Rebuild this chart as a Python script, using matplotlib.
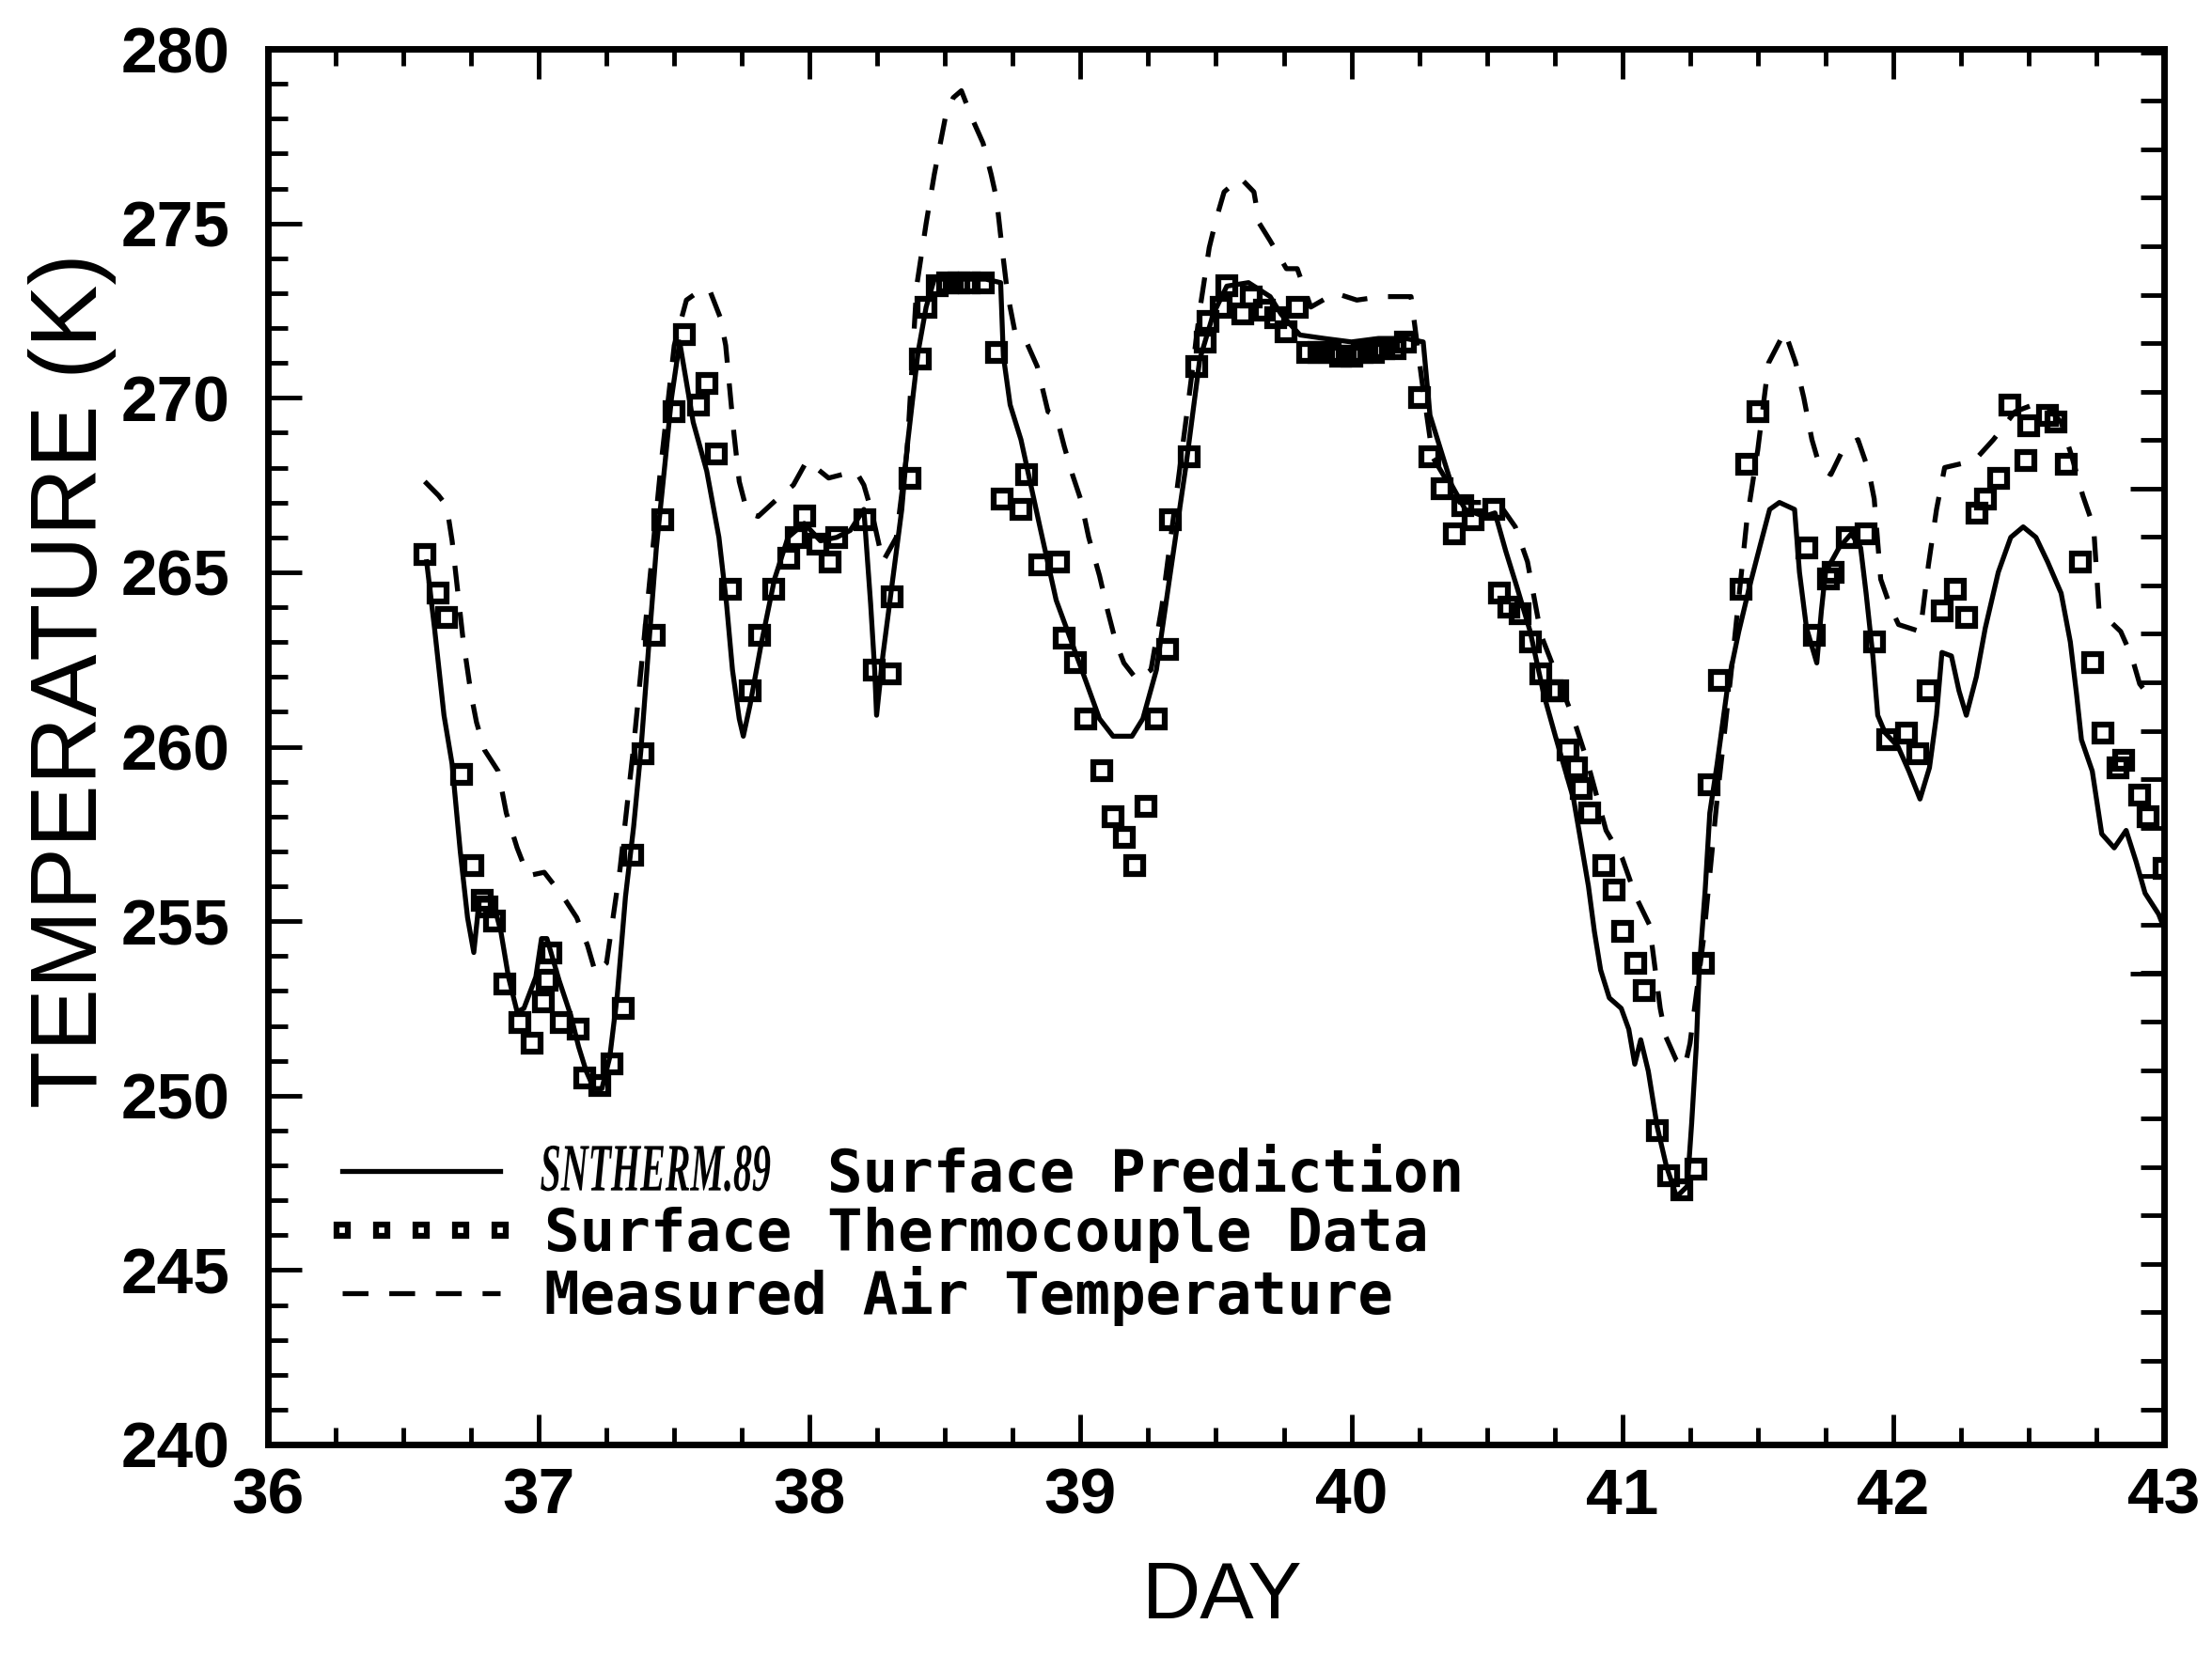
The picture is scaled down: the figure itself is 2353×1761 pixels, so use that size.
import numpy as np
import matplotlib
matplotlib.use("Agg")
import matplotlib.pyplot as plt
from matplotlib.ticker import FixedLocator, MultipleLocator, NullFormatter
from matplotlib.textpath import TextPath
from matplotlib.patches import PathPatch
from matplotlib.font_manager import FontProperties
from matplotlib.transforms import Affine2D

# ── Data ────────────────────────────────────────────────────────────────────

# SNTHERM.89 surface prediction (solid line)
model_day = [36.586, 36.615, 36.650, 36.680, 36.710, 36.737, 36.760, 36.780, 36.830, 36.860,
             36.888, 36.920, 36.945, 36.989, 37.010, 37.030, 37.075, 37.118, 37.147, 37.175,
             37.204, 37.233, 37.262, 37.290, 37.320, 37.350, 37.377, 37.405, 37.434, 37.463,
             37.490, 37.520, 37.570, 37.620, 37.665, 37.693, 37.715, 37.740, 37.755, 37.780,
             37.820, 37.870, 37.920, 37.980, 38.040, 38.100, 38.150, 38.200, 38.225, 38.240,
             38.247, 38.270, 38.310, 38.340, 38.360, 38.400, 38.430, 38.460, 38.550, 38.650,
             38.705, 38.715, 38.740, 38.780, 38.850, 38.910, 39.000, 39.070, 39.120, 39.190,
             39.230, 39.280, 39.330, 39.390, 39.440, 39.490, 39.540, 39.620, 39.700, 39.740,
             39.810, 39.900, 40.000, 40.100, 40.200, 40.265, 40.290, 40.330, 40.370, 40.420,
             40.490, 40.530, 40.570, 40.610, 40.660, 40.710, 40.753, 40.820, 40.840, 40.875,
             40.897, 40.920, 40.952, 40.996, 41.024, 41.046, 41.068, 41.096, 41.129, 41.162,
             41.200, 41.240, 41.256, 41.273, 41.284, 41.306, 41.323, 41.350, 41.390, 41.430,
             41.470, 41.510, 41.544, 41.580, 41.636, 41.654, 41.680, 41.718, 41.735, 41.750,
             41.800, 41.845, 41.880, 41.900, 41.925, 41.943, 41.970, 42.018, 42.058, 42.099,
             42.134, 42.160, 42.180, 42.215, 42.243, 42.270, 42.307, 42.340, 42.388, 42.434,
             42.480, 42.527, 42.570, 42.620, 42.654, 42.677, 42.695, 42.735, 42.770, 42.816,
             42.860, 42.897, 42.930, 42.980, 43.000]
model_temp = [265.3, 263.4, 260.9, 259.5, 257.0, 255.1, 254.1, 255.6, 255.6, 254.7,
              253.4, 252.4, 252.5, 253.4, 254.5, 254.5, 253.3, 252.3, 251.4, 250.7,
              250.2, 250.2, 251.1, 252.9, 255.7, 257.7, 259.9, 262.8, 265.7, 267.9,
              270.0, 271.6, 269.3, 267.9, 266.0, 264.1, 262.2, 260.8, 260.3, 261.2,
              262.9, 264.8, 266.0, 266.4, 265.9, 266.0, 266.2, 266.8, 264.1, 262.2,
              260.9, 262.6, 265.0, 266.8, 268.6, 271.3, 272.6, 273.4, 273.4, 273.4,
              273.3, 271.2, 269.8, 268.8, 266.3, 264.2, 262.3, 260.8, 260.3, 260.3,
              260.8, 262.2, 264.9, 268.1, 271.1, 272.4, 273.2, 273.3, 272.9, 272.4,
              271.8, 271.7, 271.6, 271.7, 271.7, 271.6, 269.5, 268.5, 267.5, 266.8,
              266.6, 266.7, 265.6, 264.6, 263.3, 261.5, 260.3, 258.5, 257.6, 256.0,
              254.7, 253.6, 252.8, 252.5, 251.9, 250.9, 251.6, 250.7, 249.1, 248.0,
              247.1, 247.4, 249.2, 251.4, 253.6, 255.9, 258.1, 259.5, 261.8, 263.3,
              264.6, 265.8, 266.8, 267.0, 266.8, 265.0, 263.4, 262.4, 263.9, 265.0,
              265.7, 266.1, 265.7, 264.4, 262.6, 260.9, 260.4, 260.0, 259.3, 258.5,
              259.4, 260.9, 262.7, 262.6, 261.6, 260.9, 262.0, 263.4, 265.0, 266.0,
              266.3, 266.0, 265.3, 264.4, 263.0, 261.5, 260.2, 259.3, 257.5, 257.1,
              257.6, 256.7, 255.8, 255.2, 254.8]

# Surface thermocouple data (squares)
obs_day = [36.579, 36.629, 36.658, 36.715, 36.758, 36.790, 36.809, 36.838, 36.874, 36.931,
           36.974, 37.017, 37.030, 37.046, 37.082, 37.147, 37.168, 37.226, 37.269, 37.312,
           37.348, 37.384, 37.427, 37.456, 37.500, 37.537, 37.590, 37.620, 37.657, 37.708,
           37.780, 37.815, 37.866, 37.923, 37.950, 37.981, 38.031, 38.074, 38.100, 38.204,
           38.240, 38.297, 38.304, 38.369, 38.410, 38.430, 38.470, 38.510, 38.550, 38.590,
           38.640, 38.690, 38.710, 38.780, 38.800, 38.850, 38.920, 38.940, 38.980, 39.020,
           39.080, 39.120, 39.160, 39.200, 39.240, 39.280, 39.320, 39.330, 39.400, 39.430,
           39.460, 39.470, 39.520, 39.540, 39.600, 39.630, 39.680, 39.720, 39.760, 39.800,
           39.840, 39.880, 39.920, 39.960, 40.000, 40.040, 40.080, 40.120, 40.160, 40.200,
           40.250, 40.290, 40.335, 40.380, 40.410, 40.450, 40.525, 40.545, 40.580, 40.624,
           40.660, 40.700, 40.740, 40.760, 40.800, 40.830, 40.850, 40.880, 40.930, 40.970,
           41.000, 41.050, 41.080, 41.130, 41.170, 41.220, 41.270, 41.300, 41.320, 41.360,
           41.440, 41.460, 41.500, 41.680, 41.710, 41.760, 41.780, 41.830, 41.900, 41.930,
           41.980, 42.050, 42.090, 42.130, 42.180, 42.230, 42.270, 42.310, 42.340, 42.390,
           42.430, 42.490, 42.500, 42.570, 42.600, 42.640, 42.690, 42.735, 42.775, 42.830,
           42.850, 42.910, 42.940, 43.000]
obs_temp = [265.5, 264.4, 263.7, 259.2, 256.6, 255.6, 255.4, 255.0, 253.2, 252.1,
            251.5, 252.7, 253.3, 254.1, 252.1, 251.9, 250.5, 250.3, 250.9, 252.5,
            256.9, 259.8, 263.2, 266.5, 269.6, 271.8, 269.8, 270.4, 268.4, 264.5,
            261.6, 263.2, 264.5, 265.4, 266.0, 266.6, 265.8, 265.3, 266.0, 266.5,
            262.2, 262.1, 264.3, 267.7, 271.1, 272.6, 273.2, 273.3, 273.3, 273.3,
            273.3, 271.3, 267.1, 266.8, 267.8, 265.2, 265.3, 263.1, 262.4, 260.8,
            259.3, 258.0, 257.4, 256.6, 258.3, 260.8, 262.8, 266.5, 268.3, 270.9,
            271.6, 272.2, 272.6, 273.2, 272.4, 272.9, 272.5, 272.3, 271.9, 272.6,
            271.3, 271.3, 271.3, 271.2, 271.2, 271.3, 271.3, 271.4, 271.4, 271.6,
            270.0, 268.3, 267.4, 266.1, 266.9, 266.5, 266.8, 264.4, 264.0, 263.8,
            263.0, 262.1, 261.6, 261.6, 259.9, 259.4, 258.8, 258.1, 256.6, 255.9,
            254.7, 253.8, 253.0, 249.0, 247.7, 247.3, 247.9, 253.8, 258.9, 261.9,
            264.5, 268.1, 269.6, 265.7, 263.2, 264.8, 265.0, 266.0, 266.1, 263.0,
            260.2, 260.4, 259.8, 261.6, 263.9, 264.5, 263.7, 266.7, 267.1, 267.7,
            269.8, 268.2, 269.2, 269.5, 269.3, 268.1, 265.3, 262.4, 260.4, 259.4,
            259.6, 258.6, 258.0, 256.5]

# Measured air temperature (dashed line)
air_day = [36.579, 36.630, 36.660, 36.680, 36.720, 36.750, 36.770, 36.800, 36.850, 36.880,
           36.920, 36.960, 37.020, 37.090, 37.140, 37.180, 37.210, 37.250, 37.300, 37.350,
           37.400, 37.450, 37.500, 37.545, 37.600, 37.630, 37.670, 37.690, 37.720, 37.740,
           37.770, 37.810, 37.880, 37.940, 37.990, 38.070, 38.170, 38.200, 38.230, 38.270,
           38.320, 38.360, 38.395, 38.430, 38.460, 38.500, 38.530, 38.560, 38.600, 38.640,
           38.670, 38.690, 38.710, 38.730, 38.760, 38.800, 38.840, 38.880, 38.910, 38.940,
           38.970, 39.000, 39.030, 39.070, 39.100, 39.130, 39.160, 39.210, 39.260, 39.300,
           39.350, 39.400, 39.440, 39.475, 39.500, 39.530, 39.590, 39.640, 39.660, 39.700,
           39.760, 39.800, 39.850, 39.940, 40.020, 40.110, 40.220, 40.260, 40.300, 40.400,
           40.500, 40.560, 40.605, 40.650, 40.700, 40.760, 40.820, 40.870, 40.940, 41.000,
           41.050, 41.100, 41.140, 41.160, 41.200, 41.230, 41.250, 41.300, 41.350, 41.400,
           41.460, 41.500, 41.540, 41.600, 41.640, 41.670, 41.700, 41.730, 41.770, 41.820,
           41.870, 41.910, 41.930, 41.954, 41.990, 42.020, 42.100, 42.130, 42.160, 42.190,
           42.300, 42.370, 42.450, 42.550, 42.620, 42.660, 42.700, 42.740, 42.760, 42.840,
           42.880, 42.910, 42.960]
air_temp = [267.6, 267.2, 266.9, 265.9, 263.1, 261.5, 260.7, 259.9, 259.3, 258.1,
            257.1, 256.3, 256.4, 255.7, 255.1, 254.3, 253.5, 253.8, 256.5, 260.0,
            264.0, 268.0, 271.5, 272.8, 273.1, 273.1, 272.3, 271.5, 269.0, 267.6,
            266.7, 266.6, 267.1, 267.5, 268.2, 267.7, 267.9, 267.5, 266.7, 265.3,
            266.0, 268.5, 273.2, 275.0, 276.4, 278.0, 278.6, 278.8, 278.0, 277.3,
            276.4, 275.7, 274.3, 273.0, 271.8, 271.6, 270.9, 269.6, 269.5, 268.6,
            267.8, 267.1, 266.0, 264.9, 263.9, 263.0, 262.4, 261.9, 262.2, 264.0,
            267.0, 270.0, 272.5, 274.3, 275.1, 275.9, 276.3, 275.9, 275.0, 274.5,
            273.7, 273.7, 272.6, 273.0, 272.8, 272.9, 272.9, 270.5, 268.3, 267.0,
            267.0, 266.8, 266.3, 265.3, 263.2, 262.0, 260.8, 259.6, 257.6, 256.8,
            255.7, 254.9, 252.5, 251.7, 251.0, 250.8, 251.5, 254.5, 258.5, 262.0,
            266.5, 268.5, 271.0, 271.9, 271.0, 270.0, 268.8, 268.0, 267.8, 268.6,
            268.8, 267.9, 267.1, 264.8, 264.0, 263.5, 263.3, 265.2, 266.8, 268.0,
            268.2, 268.8, 269.6, 269.9, 269.3, 268.3, 267.2, 266.3, 263.9, 263.3,
            262.6, 261.8, 261.3]

x_ticks = [36, 37, 38, 39, 40, 41, 42, 43]
y_ticks = [240, 245, 250, 255, 260, 265, 270, 275, 280]

legend_labels = ["Surface Prediction", "Surface Thermocouple Data",
                 "Measured Air Temperature"]
model_name = "SNTHERM.89"

# ── Style ─────────────────────────────────────────────────────────────────────

plt.rcParams['font.family'] = ['Liberation Sans', 'DejaVu Sans']
plt.rcParams['font.weight'] = 'bold'

W, H = 2353, 1761
fig = plt.figure(figsize=(W / 100, H / 100), dpi=100)
fig.patch.set_facecolor('white')
ax = fig.add_axes([285 / W, 1 - 1537 / H, (2302 - 285) / W, (1537 - 52) / H])

line_model, = ax.plot(model_day, model_temp, color='black', lw=3.8,
                      solid_joinstyle='round', zorder=3)
line_obs, = ax.plot(obs_day, obs_temp, ls='none', marker='s', ms=13,
                    mfc='none', mec='black', mew=4.5, zorder=4)
line_air, = ax.plot(air_day, air_temp, color='black', lw=3.8,
                    ls=(0, (5.2, 4.2)), zorder=3)

ax.set_xlim(36, 43)
ax.set_ylim(240, 280)

ax.xaxis.set_major_locator(FixedLocator(x_ticks))
ax.xaxis.set_minor_locator(MultipleLocator(0.25))
ax.yaxis.set_major_locator(FixedLocator(y_ticks))
ax.yaxis.set_minor_locator(MultipleLocator(1))

ax.tick_params(axis='x', which='major', direction='in', length=23, width=3.5,
               top=True, bottom=True, pad=17, labelsize=50)
ax.tick_params(axis='x', which='minor', direction='in', length=13, width=3.5,
               top=True, bottom=True)
ax.tick_params(axis='y', which='major', direction='in', length=26, width=3.5,
               left=True, right=False, pad=29, labelsize=50)
ax.tick_params(axis='y', which='minor', direction='in', length=15, width=3.5,
               left=True, right=False)

for sp in ax.spines.values():
    sp.set_linewidth(5)

# right-hand axis carries its own (unlabelled) tick scale
ax2 = ax.twinx()
ax2.set_ylim(240, 280)
r_step = 1.389
r_minor = 267.4 + r_step * np.arange(-19, 10)
r_minor = r_minor[(r_minor > 240) & (r_minor < 280)]
ax2.yaxis.set_major_locator(FixedLocator([253.5, 267.4]))
ax2.yaxis.set_minor_locator(FixedLocator(r_minor))
ax2.yaxis.set_major_formatter(NullFormatter())
ax2.tick_params(axis='y', which='major', direction='in', length=26, width=3.5)
ax2.tick_params(axis='y', which='minor', direction='in', length=18, width=3.5)
for sp in ax2.spines.values():
    sp.set_visible(False)

fig.text(77 / W, 1 - 724 / H, "TEMPERATURE (K)", rotation=90, ha='center',
         va='center', fontsize=72, fontweight='normal')
fig.text(1300 / W, 1 - 1700 / H, "DAY", ha='center', va='center',
         fontsize=62, fontweight='normal')

# ── Legend ────────────────────────────────────────────────────────────────────

pad_spaces = " " * 8
leg = ax.legend([line_model, line_obs, line_air],
                [pad_spaces + legend_labels[0], legend_labels[1], legend_labels[2]],
                loc='upper left', bbox_to_anchor=(0.030, 0.213),
                frameon=False, borderaxespad=0, borderpad=0,
                handlelength=3.29, handletextpad=0.45, labelspacing=0.05,
                numpoints=5, markerscale=0.65,
                prop=FontProperties(family='DejaVu Sans Mono', weight='bold', size=45))

# model name in bold italic serif, squeezed to the narrow plotter lettering
fig.canvas.draw()
tb = leg.get_texts()[0].get_window_extent()
fp = FontProperties(family='Liberation Serif', weight='bold', style='italic')
tp = TextPath((0, 0), model_name, size=100, prop=fp)
ext = tp.get_extents()
sx = 244 / ext.width
sy = 49 / ext.height
x0 = tb.x0 - 4
y0 = tb.y0 + 13
trans = Affine2D().translate(-ext.x0, -ext.y0).scale(sx, sy).translate(x0, y0)
fig.add_artist(PathPatch(tp, transform=trans, facecolor='black', edgecolor='none'))

fig.savefig("out.png", dpi=100, facecolor='white')
